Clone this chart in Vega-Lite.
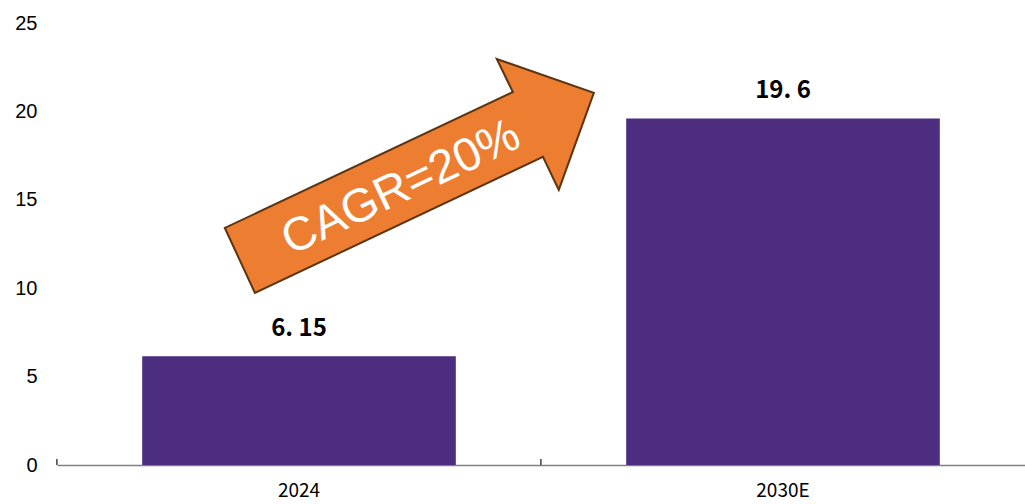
{
  "$schema": "https://vega.github.io/schema/vega-lite/v6.json",
  "autosize": "none",
  "padding": {"left": 57, "top": 23, "right": 0, "bottom": 39},
  "width": 968,
  "height": 442,
  "background": "white",
  "config": {"view": {"stroke": null}},
  "datasets": {
    "bars": [
      {"year": "2024", "value": 6.15, "label": "6. 15"},
      {"year": "2030E", "value": 19.6, "label": "19. 6"}
    ],
    "note": [
      {"ax": 0.364, "ay": 16.35, "tx": 0.3554, "ty": 15.67, "text": "CAGR=20%"}
    ]
  },
  "layer": [
    {
      "data": {"name": "bars"},
      "encoding": {
        "x": {
          "field": "year", "type": "nominal", "sort": null,
          "scale": {"paddingInner": 0.352, "paddingOuter": 0.176},
          "axis": {
            "title": null, "labelAngle": 0, "domainColor": "#808080", "domainWidth": 1.5,
            "ticks": false,
            "labelFont": "Noto Sans CJK SC", "labelFontSize": 19, "labelColor": "#000000",
            "labelPadding": 16
          }
        },
        "y": {
          "field": "value", "type": "quantitative",
          "scale": {"domain": [0, 25], "nice": false, "zero": true},
          "axis": {
            "title": null, "values": [0, 5, 10, 15, 20, 25], "domain": false, "ticks": false,
            "grid": false, "labelFont": "Liberation Sans", "labelFontSize": 20,
            "labelColor": "#000000", "labelPadding": 20
          }
        }
      },
      "layer": [
        {"mark": {"type": "bar", "color": "#4d2d80"}},
        {
          "mark": {"type": "rule", "color": "#404040", "strokeWidth": 1.5},
          "encoding": {
            "x": {"field": "year", "type": "nominal", "sort": null, "bandPosition": -0.272},
            "y": {"datum": 0},
            "y2": {"datum": 0.34}
          }
        },
        {
          "mark": {"type": "text", "font": "Noto Sans CJK SC", "fontWeight": "bold", "fontSize": 24, "baseline": "alphabetic", "dy": -20, "color": "#000000"},
          "encoding": {"text": {"field": "label"}}
        }
      ]
    },
    {
      "data": {"name": "note"},
      "layer": [
        {
          "mark": {
            "type": "point", "filled": true, "fill": "#ed7d31", "fillOpacity": 1,
            "stroke": "#5a3510", "strokeWidth": 2, "opacity": 1,
            "shape": "M-1,0.282 L-0.837,0.634 L0.724,-0.103 L0.81,0.076 L1,-0.45 L0.474,-0.634 L0.561,-0.455 Z",
            "size": 136161
          },
          "encoding": {
            "x": {"field": "ax", "type": "quantitative", "scale": {"domain": [0, 1], "nice": false, "zero": false}, "axis": null},
            "y": {"field": "ay", "type": "quantitative", "scale": {"domain": [0, 25], "nice": false, "zero": true}, "axis": null}
          }
        },
        {
          "mark": {"type": "text", "font": "Liberation Sans", "fontSize": 47, "color": "#ffffff", "angle": 334.7, "align": "center", "baseline": "middle"},
          "encoding": {
            "x": {"field": "tx", "type": "quantitative", "scale": {"domain": [0, 1], "nice": false, "zero": false}, "axis": null},
            "y": {"field": "ty", "type": "quantitative", "scale": {"domain": [0, 25], "nice": false, "zero": true}, "axis": null},
            "text": {"field": "text"}
          }
        }
      ]
    }
  ],
  "resolve": {"scale": {"x": "independent"}, "axis": {"y": "independent"}}
}
